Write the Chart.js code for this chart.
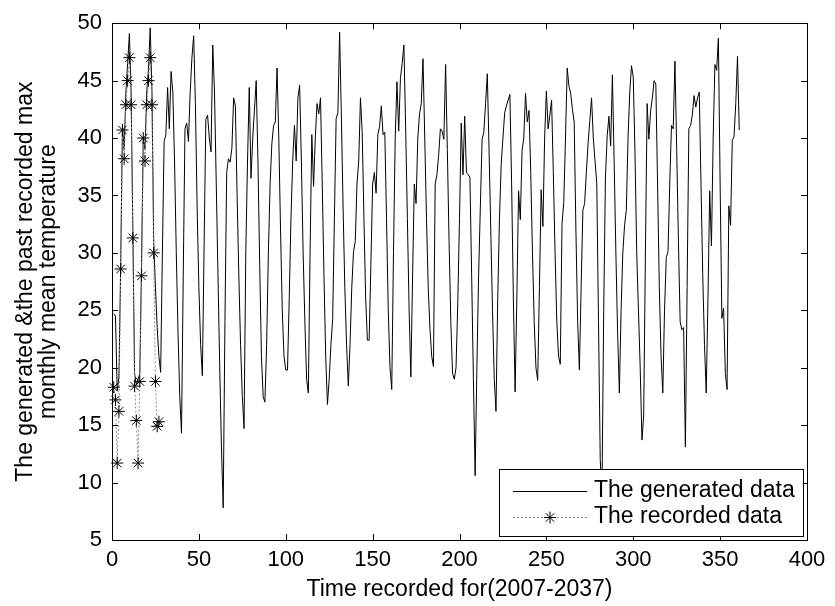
<!DOCTYPE html>
<html><head><meta charset="utf-8">
<script src="https://cdn.jsdelivr.net/npm/chart.js@4.4.1/dist/chart.umd.min.js"></script>
<style>html,body{margin:0;padding:0;background:#fff;}canvas{display:block;}</style>
</head><body>
<canvas id="c" width="835" height="606"></canvas>
<script>
// Generated monthly max mean temperature, month 1..361
const generatedTemp = [
  24.7, 24.5, 18.0, 19.2, 29.0, 41.0, 39.0, 44.0, 46.5, 49.1, 44.0, 32.0,
  19.5, 18.5, 19.0, 19.5, 29.0, 40.0, 39.0, 44.0, 46.0, 49.6, 44.0, 31.0,
  27.0, 23.5, 21.0, 19.6, 30.0, 39.7, 40.3, 44.4, 40.8, 45.8, 44.0, 38.0,
  30.0, 23.0, 17.5, 14.3, 28.0, 40.8, 41.3, 39.7, 44.0, 47.0, 48.9, 43.0,
  34.0, 27.0, 22.0, 19.3, 30.5, 41.6, 42.0, 40.0, 38.8, 48.1, 44.0, 36.0,
  28.0, 20.0, 13.0, 7.8, 24.0, 37.0, 38.2, 37.9, 39.1, 43.5, 42.8, 35.0,
  28.0, 22.0, 17.5, 14.7, 30.0, 38.0, 44.4, 36.5, 40.0, 42.5, 45.0, 38.0,
  29.0, 21.0, 17.5, 17.0, 22.0, 30.0, 36.0, 39.5, 41.1, 41.4, 46.1, 40.0,
  32.0, 25.0, 21.0, 19.8, 19.8, 26.0, 33.0, 38.0, 41.1, 38.0, 43.5, 44.6,
  38.0, 30.0, 24.0, 19.0, 17.8, 30.0, 40.3, 35.8, 40.0, 43.0, 42.1, 43.5,
  36.0, 28.0, 21.0, 16.8, 19.0, 22.0, 24.2, 33.0, 41.7, 42.2, 49.2, 42.0,
  34.0, 27.0, 22.0, 18.4, 22.0, 27.0, 30.1, 31.0, 36.0, 38.0, 43.5, 40.5,
  33.0, 26.0, 22.4, 22.4, 29.0, 36.0, 37.0, 35.2, 40.3, 41.0, 42.8, 40.3,
  40.5, 33.0, 25.0, 20.0, 18.1, 30.0, 40.0, 44.9, 40.6, 45.2, 46.5, 48.1,
  41.0, 33.0, 25.0, 19.2, 28.0, 36.0, 34.3, 40.0, 42.1, 43.0, 46.9, 40.0,
  33.0, 27.0, 23.4, 21.0, 20.1, 36.0, 36.8, 38.5, 40.8, 40.6, 39.9, 46.4,
  39.0, 31.0, 24.0, 19.5, 19.0, 20.0, 25.6, 33.0, 41.3, 36.8, 41.9, 37.0,
  36.8, 36.6, 28.0, 19.0, 10.6, 20.0, 28.1, 34.0, 39.9, 40.5, 43.0, 45.6,
  39.0, 32.0, 25.0, 19.0, 16.2, 26.0, 33.0, 37.7, 40.0, 42.2, 42.8, 43.3,
  43.8, 36.0, 26.0, 17.9, 26.0, 35.4, 32.9, 38.9, 40.0, 43.9, 41.4, 42.4,
  37.0, 30.0, 24.0, 20.0, 18.9, 27.0, 35.5, 32.3, 40.0, 44.1, 40.8, 42.0,
  43.3, 37.0, 30.0, 24.0, 21.0, 20.3, 32.5, 34.4, 40.0, 46.1, 44.5, 43.9,
  42.5, 41.4, 32.0, 24.0, 19.8, 27.0, 33.7, 34.3, 37.0, 39.5, 41.5, 43.5,
  40.0, 38.0, 36.1, 24.0, 12.0, 9.0, 25.0, 36.6, 40.2, 41.9, 39.3, 45.5,
  38.0, 30.0, 23.0, 17.8, 25.0, 30.0, 32.4, 33.7, 40.0, 44.0, 46.3, 45.3,
  38.7, 30.0, 25.0, 20.0, 13.7, 15.8, 30.0, 43.0, 39.9, 42.4, 43.5, 45.0,
  44.7, 36.0, 27.0, 21.0, 17.8, 25.0, 29.6, 30.1, 36.0, 41.1, 40.8, 46.7,
  39.0, 31.0, 24.0, 23.3, 23.5, 13.1, 27.0, 40.8, 41.1, 42.0, 43.7, 42.7,
  43.5, 44.0, 36.0, 28.0, 22.0, 17.8, 26.0, 35.4, 30.6, 40.0, 46.4, 45.9,
  48.7, 36.0, 24.3, 25.2, 19.5, 18.1, 34.1, 32.4, 39.8, 40.1, 43.0, 47.1,
  40.7
];
// Past recorded data, month 1..27
const recordedTemp = [
  18.3, 17.2, 11.7, 16.2, 28.6, 40.7, 38.2, 42.9, 45.0, 47.0, 42.9, 31.3,
  18.4, 15.4, 11.7, 18.8, 28.0, 40.0, 38.0, 42.9, 45.0, 47.0, 42.9, 30.0,
  18.8, 14.9, 15.3
];
const xTicks = [0, 50, 100, 150, 200, 250, 300, 350, 400];
const yTicks = [5, 10, 15, 20, 25, 30, 35, 40, 45, 50];
const seriesNames = ['The generated data', 'The recorded data'];
const xTitle = 'Time recorded for(2007-2037)';
const yTitle = ['The generated &the past recorded max', 'monthly mean temperature'];

const FONT = '"Liberation Sans", Arial, Helvetica, sans-serif';
const FS = 22;   // tick labels
const FT = 23;   // titles and legend
Chart.defaults.font.family = FONT;
Chart.defaults.color = '#000';

function drawStar(ctx, cx, cy, r) {
  ctx.beginPath();
  ctx.moveTo(cx - r, cy); ctx.lineTo(cx + r, cy);
  ctx.moveTo(cx, cy - r); ctx.lineTo(cx, cy + r);
  const d = r * Math.SQRT1_2;
  ctx.moveTo(cx - d, cy - d); ctx.lineTo(cx + d, cy + d);
  ctx.moveTo(cx - d, cy + d); ctx.lineTo(cx + d, cy - d);
  ctx.stroke();
}

const boxPlugin = {
  id: 'matlabBox',
  afterDatasetsDraw(chart) {
    const {ctx, chartArea: a, scales: {x, y}} = chart;
    ctx.save();
    ctx.strokeStyle = '#000';
    ctx.lineWidth = 1;
    const L = 6;
    ctx.beginPath();
    xTicks.forEach(v => {
      const px = Math.round(x.getPixelForValue(v)) + 0.5;
      ctx.moveTo(px, a.bottom); ctx.lineTo(px, a.bottom - L);
      ctx.moveTo(px, a.top); ctx.lineTo(px, a.top + L);
    });
    yTicks.forEach(v => {
      const py = Math.round(y.getPixelForValue(v)) + 0.5;
      ctx.moveTo(a.left, py); ctx.lineTo(a.left + L, py);
      ctx.moveTo(a.right, py); ctx.lineTo(a.right - L, py);
    });
    ctx.stroke();
    ctx.strokeRect(Math.round(a.left) + 0.5, Math.round(a.top) + 0.5,
                   Math.round(a.right - a.left), Math.round(a.bottom - a.top));

    // Legend box (inside axes, lower right)
    const bx = 499, by = 469, bw = 304, bh = 67;
    ctx.fillStyle = '#fff';
    ctx.fillRect(bx, by, bw, bh);
    ctx.strokeRect(bx + 0.5, by + 0.5, bw, bh);
    const ds = chart.data.datasets;
    const rows = [by + 22, by + 48];
    const x0 = bx + 14, x1 = bx + 88;
    ctx.strokeStyle = ds[0].borderColor; ctx.lineWidth = 1; ctx.setLineDash([]);
    ctx.beginPath(); ctx.moveTo(x0, rows[0] + 0.5); ctx.lineTo(x1, rows[0] + 0.5); ctx.stroke();
    ctx.strokeStyle = ds[1].borderColor; ctx.setLineDash(ds[1].borderDash);
    ctx.beginPath(); ctx.moveTo(x0, rows[1] + 0.5); ctx.lineTo(x1, rows[1] + 0.5); ctx.stroke();
    ctx.setLineDash([]);
    ctx.strokeStyle = ds[1].pointBorderColor;
    drawStar(ctx, (x0 + x1) / 2, rows[1] + 0.5, ds[1].pointRadius);
    ctx.fillStyle = '#000';
    ctx.font = FT + 'px ' + FONT;
    ctx.textBaseline = 'middle';
    ctx.textAlign = 'left';
    ctx.fillText(seriesNames[0], x1 + 7, rows[0]);
    ctx.fillText(seriesNames[1], x1 + 7, rows[1]);
    ctx.restore();
  }
};

new Chart(document.getElementById('c'), {
  type: 'line',
  data: {
    datasets: [
      {
        label: seriesNames[0],
        data: generatedTemp.map((v, i) => ({x: i + 1, y: v})),
        borderColor: '#000',
        borderWidth: 1,
        pointRadius: 0,
        tension: 0,
        order: 2
      },
      {
        label: seriesNames[1],
        data: recordedTemp.map((v, i) => ({x: i + 1, y: v})),
        borderColor: '#8a8a8a',
        borderWidth: 1,
        borderDash: [2, 2],
        pointStyle: 'star',
        pointRadius: 6,
        pointBorderColor: '#000',
        pointBackgroundColor: 'rgba(0,0,0,0)',
        pointBorderWidth: 1,
        tension: 0,
        clip: false,
        order: 1
      }
    ]
  },
  options: {
    responsive: false,
    animation: false,
    events: [],
    layout: {padding: {top: 15, right: 28, bottom: 0, left: 0}},
    plugins: {legend: {display: false}, tooltip: {enabled: false}},
    scales: {
      x: {
        type: 'linear', min: 0, max: 400,
        grid: {display: false, drawTicks: false},
        border: {display: false},
        afterBuildTicks: s => { s.ticks = xTicks.map(v => ({value: v})); },
        afterFit: s => { s.height = 66; },
        ticks: {font: {size: FS}, padding: 7, maxRotation: 0, autoSkip: false, color: '#000'},
        title: {display: true, text: xTitle, font: {size: FT, lineHeight: 1}, padding: {top: 0, bottom: 4.5}, color: '#000'}
      },
      y: {
        type: 'linear', min: 5, max: 50,
        grid: {display: false, drawTicks: false},
        border: {display: false},
        afterBuildTicks: s => { s.ticks = yTicks.map(v => ({value: v})); },
        afterFit: s => { s.width = 112; },
        ticks: {font: {size: FS}, padding: 10, autoSkip: false, color: '#000'},
        title: {display: true, text: yTitle, font: {size: FT, lineHeight: 1}, padding: {top: 14.5, bottom: 0}, color: '#000'}
      }
    }
  },
  plugins: [boxPlugin]
});
</script>
</body></html>
